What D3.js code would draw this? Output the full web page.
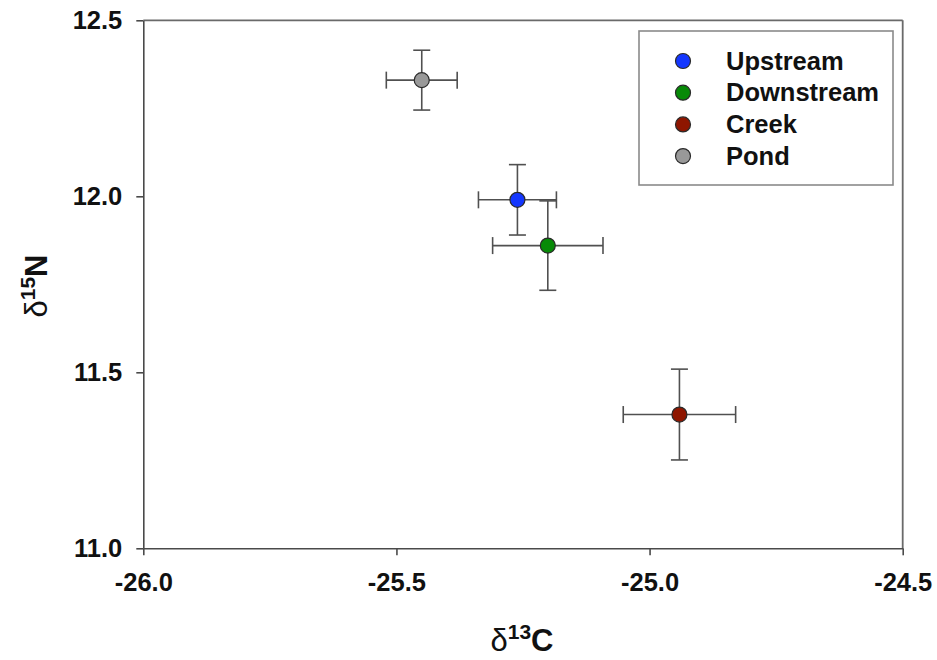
<!DOCTYPE html>
<html>
<head>
<meta charset="utf-8">
<script src="https://cdn.jsdelivr.net/npm/d3@7"></script>
<style>
  body { margin: 0; background: #fff; }
  svg { display: block; font-family: "Liberation Sans", Arial, sans-serif; }
</style>
</head>
<body>
<svg id="chart"></svg>
<script>
const groups = ["Upstream", "Downstream", "Creek", "Pond"];
const d13C = [-25.261, -25.201, -24.941, -25.45];
const d15N = [11.99, 11.86, 11.38, 12.33];
const errC = [0.077, 0.109, 0.111, 0.07];
const errN = [0.1, 0.127, 0.129, 0.085];
const colors = ["#1437ff", "#078a07", "#8e1600", "#999999"];
const xTicks = [-26.0, -25.5, -25.0, -24.5];
const yTicks = [11.0, 11.5, 12.0, 12.5];

function init() {
  const width = 937,
    height = 660;

  const svg = d3.select("#chart").attr("width", width).attr("height", height);

  const x = d3.scaleLinear().domain([-26, -24.5]).range([143.3, 902.7]);
  const y = d3.scaleLinear().domain([11, 12.5]).range([548.3, 20.3]);

  const axisColor = "#4a4a4a";
  const fmt = (d) => d.toFixed(1);

  // frame: top and right
  svg
    .append("line")
    .attr("x1", x(-26))
    .attr("x2", x(-24.5))
    .attr("y1", y(12.5))
    .attr("y2", y(12.5))
    .attr("stroke", "#6a6a6a")
    .attr("stroke-width", 1.8);
  svg
    .append("line")
    .attr("x1", x(-24.5))
    .attr("x2", x(-24.5))
    .attr("y1", y(12.5))
    .attr("y2", y(11))
    .attr("stroke", "#6a6a6a")
    .attr("stroke-width", 1.8);

  const xAxis = svg
    .append("g")
    .attr("transform", `translate(0, ${y(11)})`)
    .call(
      d3.axisBottom(x).tickValues(xTicks).tickFormat(fmt).tickSize(7).tickSizeOuter(0).tickPadding(18)
    );

  const yAxis = svg
    .append("g")
    .attr("transform", `translate(${x(-26)}, 0)`)
    .call(
      d3.axisLeft(y).tickValues(yTicks).tickFormat(fmt).tickSize(7).tickSizeOuter(0).tickPadding(14)
    );

  [xAxis, yAxis].forEach((g) => {
    g.select(".domain").attr("stroke", axisColor).attr("stroke-width", 1.6);
    g.selectAll(".tick line").attr("stroke", axisColor).attr("stroke-width", 1.6);
    g.selectAll(".tick text")
      .attr("fill", "#111")
      .style("font-size", "25.5px")
      .style("font-weight", "bold");
  });

  // error bars
  const cap = 8.5;
  const errColor = "#505050";
  const bars = svg.append("g");
  groups.forEach((g, i) => {
    const cx = x(d13C[i]),
      cy = y(d15N[i]);
    const x0 = x(d13C[i] - errC[i]),
      x1 = x(d13C[i] + errC[i]);
    const y0 = y(d15N[i] - errN[i]),
      y1 = y(d15N[i] + errN[i]);
    const segs = [
      [x0, cy, x1, cy],
      [x0, cy - cap, x0, cy + cap],
      [x1, cy - cap, x1, cy + cap],
      [cx, y0, cx, y1],
      [cx - cap, y0, cx + cap, y0],
      [cx - cap, y1, cx + cap, y1],
    ];
    bars
      .selectAll(null)
      .data(segs)
      .join("line")
      .attr("x1", (d) => d[0])
      .attr("y1", (d) => d[1])
      .attr("x2", (d) => d[2])
      .attr("y2", (d) => d[3])
      .attr("stroke", errColor)
      .attr("stroke-width", 1.6);
  });

  svg
    .append("g")
    .selectAll("circle")
    .data(groups)
    .join("circle")
    .attr("cx", (d, i) => x(d13C[i]))
    .attr("cy", (d, i) => y(d15N[i]))
    .attr("r", 7.5)
    .attr("fill", (d, i) => colors[i])
    .attr("stroke", "#2a2a2a")
    .attr("stroke-width", 1.2);

  // legend
  const legend = svg.append("g");
  legend
    .append("rect")
    .attr("x", 639)
    .attr("y", 31)
    .attr("width", 254)
    .attr("height", 154)
    .attr("fill", "white")
    .attr("stroke", "#8a8a8a")
    .attr("stroke-width", 1.6);

  const rows = legend
    .selectAll("g.row")
    .data(groups)
    .join("g")
    .attr("class", "row")
    .attr("transform", (d, i) => `translate(683, ${61 + i * 31.7})`);
  rows
    .append("circle")
    .attr("r", 7.5)
    .attr("fill", (d, i) => colors[i])
    .attr("stroke", "#2a2a2a")
    .attr("stroke-width", 1.2);
  rows
    .append("text")
    .attr("x", 43)
    .attr("y", 8.5)
    .text((d) => d)
    .style("font-size", "25.5px")
    .style("font-weight", "bold")
    .attr("fill", "#111");

  // axis titles
  const xt = svg
    .append("text")
    .attr("x", 522)
    .attr("y", 651)
    .attr("text-anchor", "middle")
    .attr("fill", "#111");
  xt.append("tspan").text("δ").style("font-size", "31px");
  xt.append("tspan").text("13").attr("dy", -12).style("font-size", "21px").style("font-weight", "bold");
  xt.append("tspan").text("C").attr("dy", 12).style("font-size", "31px").style("font-weight", "bold");

  const yt = svg
    .append("text")
    .attr("transform", "translate(47, 286) rotate(-90)")
    .attr("text-anchor", "middle")
    .attr("fill", "#111");
  yt.append("tspan").text("δ").style("font-size", "31px");
  yt.append("tspan").text("15").attr("dy", -12).style("font-size", "21px").style("font-weight", "bold");
  yt.append("tspan").text("N").attr("dy", 12).style("font-size", "31px").style("font-weight", "bold");
}

init();
</script>
</body>
</html>
